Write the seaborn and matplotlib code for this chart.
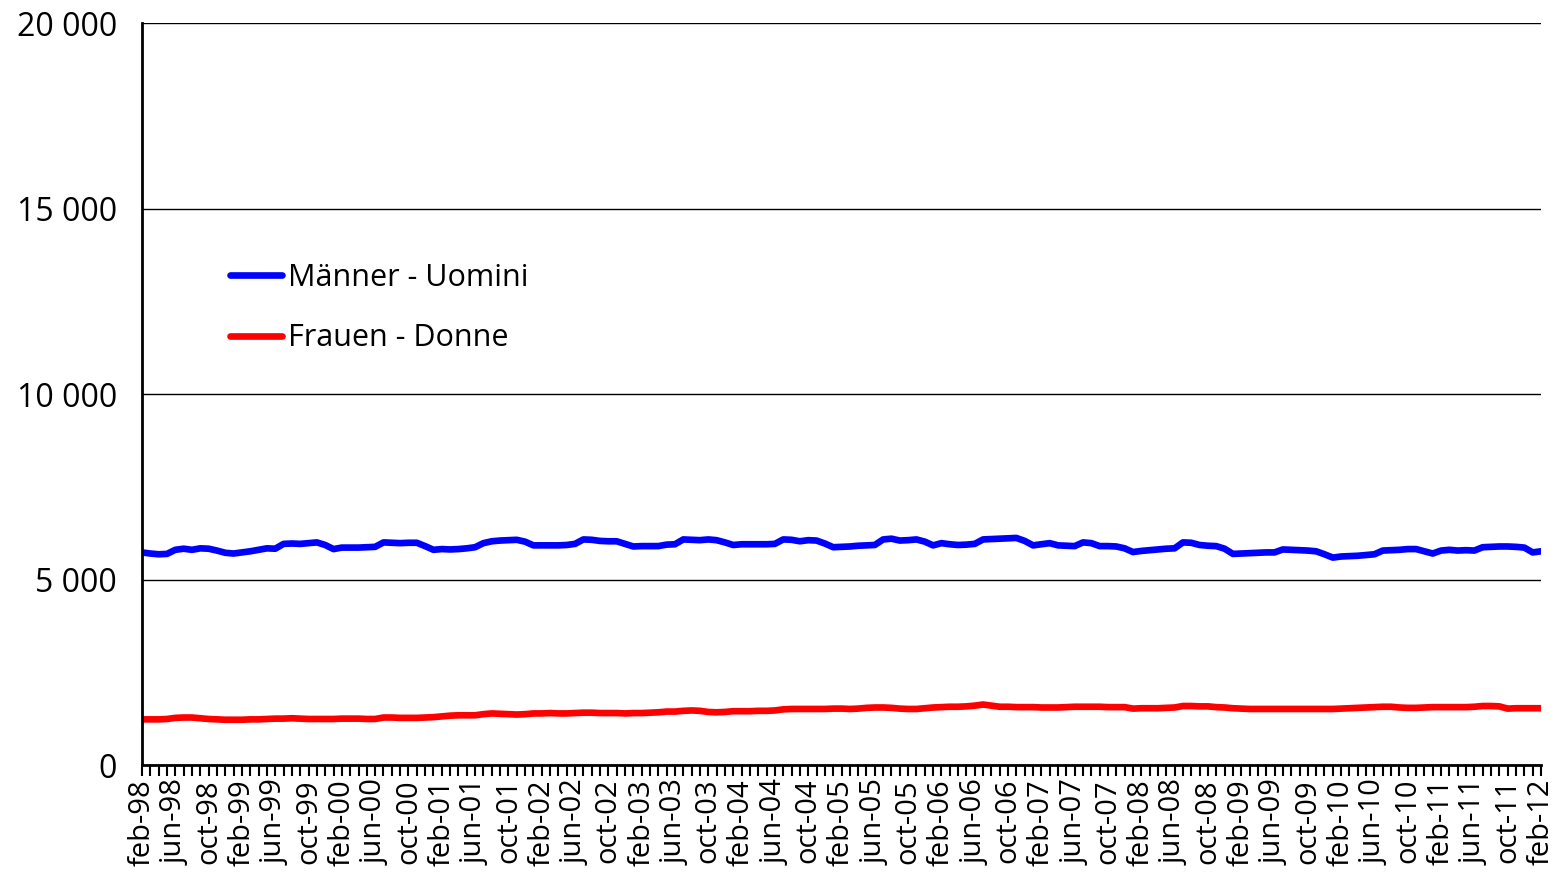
import numpy as np
import pandas as pd
import matplotlib
matplotlib.use("Agg")
import matplotlib.pyplot as plt
import seaborn as sns
from matplotlib.ticker import FuncFormatter, MultipleLocator

# monthly values feb-98 .. feb-12 (169 months)
maenner = [
    5730, 5700, 5680, 5690, 5800, 5830, 5800, 5840, 5830, 5780, 5720, 5700,
    5730, 5760, 5800, 5840, 5830, 5960, 5970, 5960, 5980, 6000, 5930, 5820,
    5860, 5860, 5860, 5870, 5880, 6000, 5990, 5980, 5990, 5990, 5900, 5800,
    5820, 5810, 5820, 5840, 5870, 5980, 6030, 6050, 6060, 6070, 6020, 5920,
    5920, 5920, 5920, 5930, 5960, 6080, 6070, 6040, 6030, 6030, 5960, 5890,
    5900, 5900, 5900, 5940, 5950, 6080, 6070, 6060, 6080, 6060, 6000, 5930,
    5950, 5950, 5950, 5950, 5960, 6080, 6070, 6030, 6060, 6050, 5970, 5870,
    5880, 5890, 5910, 5920, 5930, 6080, 6100, 6050, 6060, 6080, 6020, 5920,
    5980, 5950, 5930, 5940, 5960, 6080, 6090, 6100, 6110, 6120, 6040, 5920,
    5950, 5980, 5920, 5910, 5900, 6000, 5980, 5900, 5900, 5890, 5840, 5740,
    5770, 5790, 5810, 5830, 5840, 6000, 5990, 5930, 5910, 5900, 5830, 5690,
    5700, 5710, 5720, 5730, 5730, 5810, 5800, 5790, 5780, 5760, 5680, 5590,
    5620, 5630, 5640, 5660, 5680, 5780, 5790, 5800, 5820, 5820, 5760, 5700,
    5780, 5800, 5780, 5790, 5780, 5870, 5880, 5890, 5890, 5880, 5860, 5730,
    5760,
]
frauen = [
    1230, 1230, 1230, 1240, 1270, 1280, 1280, 1260, 1240, 1230, 1220, 1220,
    1220, 1230, 1230, 1240, 1250, 1250, 1260, 1250, 1240, 1240, 1240, 1240,
    1250, 1250, 1250, 1240, 1240, 1280, 1280, 1270, 1270, 1270, 1280, 1290,
    1310, 1330, 1340, 1340, 1340, 1370, 1390, 1380, 1370, 1360, 1370, 1390,
    1390, 1400, 1390, 1390, 1400, 1410, 1410, 1400, 1400, 1400, 1390, 1400,
    1400, 1410, 1420, 1440, 1440, 1460, 1470, 1460, 1430, 1420, 1430, 1450,
    1450, 1450, 1460, 1460, 1470, 1500, 1510, 1510, 1510, 1510, 1510, 1520,
    1520, 1510, 1520, 1540, 1550, 1550, 1540, 1520, 1510, 1510, 1530, 1550,
    1560, 1570, 1570, 1580, 1600, 1630, 1600, 1570, 1570, 1560, 1560, 1560,
    1550, 1550, 1550, 1560, 1570, 1570, 1570, 1570, 1560, 1560, 1560, 1520,
    1530, 1530, 1530, 1540, 1550, 1590, 1590, 1580, 1580, 1560, 1550, 1530,
    1520, 1510, 1510, 1510, 1510, 1510, 1510, 1510, 1510, 1510, 1510, 1510,
    1520, 1530, 1540, 1550, 1560, 1570, 1570, 1550, 1540, 1540, 1550, 1560,
    1560, 1560, 1560, 1560, 1570, 1590, 1590, 1580, 1520, 1530, 1530, 1530,
    1530,
]
serien = ["Männer - Uomini", "Frauen - Donne"]
farben = ["#0000ff", "#ff0000"]
monate = ["jan", "feb", "mar", "apr", "may", "jun", "jul", "aug", "sep", "oct", "nov", "dec"]

n = len(maenner)
labels = []
for i in range(n):
    m = (1 + i) % 12
    y = (1998 + (1 + i) // 12) % 100
    labels.append(f"{monate[m]}-{y:02d}")

df = pd.DataFrame({
    "monat": list(range(n)) * 2,
    "wert": maenner + frauen,
    "serie": [serien[0]] * n + [serien[1]] * n,
})

sns.set_style("white")
plt.rcParams["font.family"] = ["Open Sans", "DejaVu Sans"]
plt.rcParams["text.color"] = "black"
plt.rcParams["xtick.color"] = "black"
plt.rcParams["ytick.color"] = "black"

fig = plt.figure(figsize=(15.56, 8.76), dpi=100)
ax = fig.add_axes([142 / 1556, 1 - 765 / 876, 1399 / 1556, 742 / 876])

sns.lineplot(data=df, x="monat", y="wert", hue="serie", palette=farben,
             hue_order=serien, linewidth=4.8, ax=ax)

ax.set_xlim(0, n - 1)
ax.set_ylim(0, 20000)
ax.set_yticks([0, 5000, 10000, 15000, 20000])
ax.yaxis.set_major_formatter(FuncFormatter(lambda v, p: f"{int(v):,}".replace(",", " ")))
ax.grid(axis="y", color="black", linewidth=1)
ax.set_axisbelow(True)

ax.set_xticks(range(0, n, 4))
ax.set_xticklabels(labels[::4], rotation=90)
ax.xaxis.set_minor_locator(MultipleLocator(1))
ax.tick_params(axis="x", which="both", direction="out", length=8, width=1.5,
               color="black", labelsize=21, pad=2, bottom=True)
ax.tick_params(axis="y", length=0, labelsize=23, pad=18)

for s in ["top", "right"]:
    ax.spines[s].set_visible(False)
for s in ["left", "bottom"]:
    ax.spines[s].set_color("black")
    ax.spines[s].set_linewidth(2)

ax.set_xlabel("")
ax.set_ylabel("")
ax.legend(loc="upper left", bbox_to_anchor=(0.043, 0.714), frameon=False,
          fontsize=22, handlelength=1.7, handletextpad=0.2, labelspacing=1.0)

fig.savefig("out.png", dpi=100)
